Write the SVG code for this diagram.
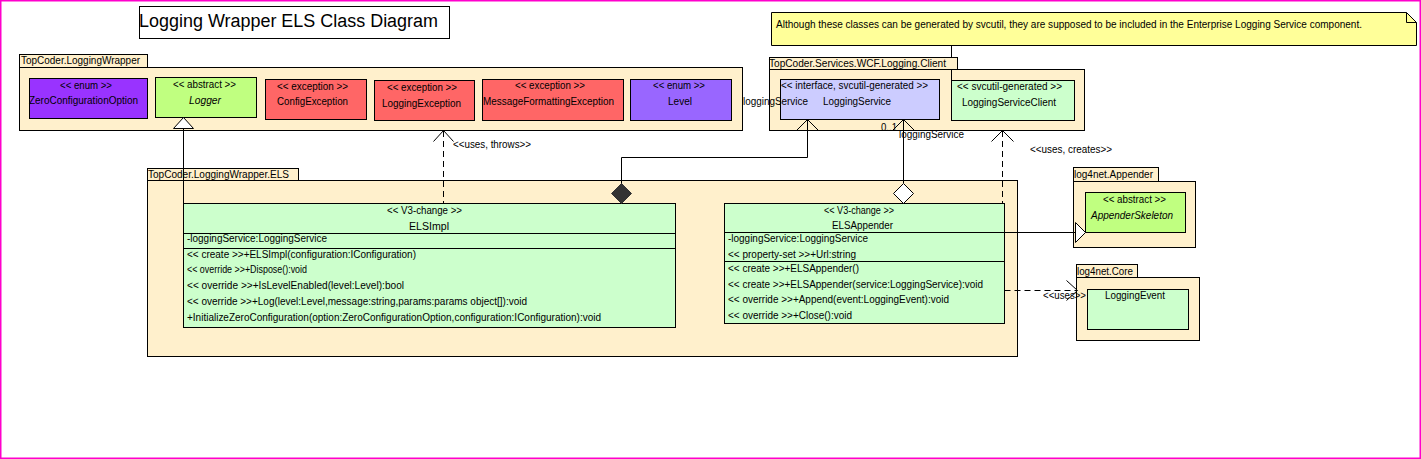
<svg xmlns="http://www.w3.org/2000/svg" width="1421" height="459" viewBox="0 0 1421 459">
<style>
text{font-family:"Liberation Sans",Arial,sans-serif;font-size:10px;fill:#000}
.title{font-size:18px}
.it{font-style:italic}
.pkg{fill:#fff0cc;stroke:#000;stroke-width:1}
.cls{stroke:#000;stroke-width:1}
.ln{fill:none;stroke:#000;stroke-width:1}
.dash{fill:none;stroke:#000;stroke-width:1;stroke-dasharray:6,4}
.green{fill:#ccffcc}
.lime{fill:#c0ff80}
.red{fill:#ff6666}
.purple{fill:#9933ff}
.violet{fill:#9966ff}
.lav{fill:#ccccff}
</style>
<rect x="0.75" y="0.75" width="1419.5" height="457.5" fill="#fff" stroke="#ff00cc" stroke-width="1.5"/>

<g id="title">
<rect x="139.5" y="6.5" width="310" height="32" fill="#fff" stroke="#000"/>
<text class="title" x="139" y="27" textLength="299" lengthAdjust="spacingAndGlyphs">Logging Wrapper ELS Class Diagram</text>
</g>

<g id="note">
<path d="M771.5,12.5 H1406.5 L1416.5,22.5 V45.5 H771.5 Z" fill="#ffff99" stroke="#000"/>
<path d="M1406.5,12.5 V22.5 H1416.5" fill="none" stroke="#000"/>
<text x="776" y="28" textLength="586" lengthAdjust="spacingAndGlyphs">Although these classes can be generated by svcutil, they are supposed to be included in the Enterprise Logging Service component.</text>
</g>

<g id="pkg-loggingwrapper">
<rect class="pkg" x="19.5" y="54.5" width="128" height="13"/>
<rect class="pkg" x="19.5" y="67.5" width="723" height="63"/>
<text x="21" y="64" textLength="119" lengthAdjust="spacingAndGlyphs">TopCoder.LoggingWrapper</text>
</g>

<g id="pkg-wcf">
<rect class="pkg" x="769.5" y="57.5" width="188" height="12"/>
<rect class="pkg" x="769.5" y="69.5" width="315" height="61"/>
<text x="769" y="67" textLength="177" lengthAdjust="spacingAndGlyphs">TopCoder.Services.WCF.Logging.Client</text>
</g>

<g id="pkg-els">
<rect class="pkg" x="147.5" y="168.5" width="151" height="12"/>
<rect class="pkg" x="147.5" y="180.5" width="870" height="176"/>
<text x="148" y="178" textLength="141" lengthAdjust="spacingAndGlyphs">TopCoder.LoggingWrapper.ELS</text>
</g>

<g id="pkg-appender">
<rect class="pkg" x="1073.5" y="167.5" width="85" height="14"/>
<rect class="pkg" x="1073.5" y="181.5" width="122" height="66"/>
<text x="1074" y="178" textLength="79" lengthAdjust="spacingAndGlyphs">log4net.Appender</text>
</g>

<g id="pkg-core">
<rect class="pkg" x="1076.5" y="264.5" width="61" height="13"/>
<rect class="pkg" x="1076.5" y="277.5" width="123" height="63"/>
<text x="1077" y="275" textLength="56" lengthAdjust="spacingAndGlyphs">log4net.Core</text>
</g>

<g id="ZeroConfigurationOption">
<rect class="cls purple" x="29.5" y="78.5" width="118" height="40"/>
<text x="60" y="89" textLength="52" lengthAdjust="spacingAndGlyphs">&lt;&lt; enum &gt;&gt;</text>
<text x="29" y="104" textLength="109" lengthAdjust="spacingAndGlyphs">ZeroConfigurationOption</text>
</g>

<g id="Logger">
<rect class="cls lime" x="155.5" y="77.5" width="101" height="40"/>
<text x="173" y="88" textLength="63" lengthAdjust="spacingAndGlyphs">&lt;&lt; abstract &gt;&gt;</text>
<text class="it" x="189" y="104" textLength="32" lengthAdjust="spacingAndGlyphs">Logger</text>
</g>

<g id="ConfigException">
<rect class="cls red" x="265.5" y="79.5" width="101" height="40"/>
<text x="277" y="90" textLength="71" lengthAdjust="spacingAndGlyphs">&lt;&lt; exception &gt;&gt;</text>
<text x="277" y="105" textLength="71" lengthAdjust="spacingAndGlyphs">ConfigException</text>
</g>

<g id="LoggingException">
<rect class="cls red" x="374.5" y="80.5" width="100" height="40"/>
<text x="387" y="91" textLength="70" lengthAdjust="spacingAndGlyphs">&lt;&lt; exception &gt;&gt;</text>
<text x="382" y="107" textLength="79" lengthAdjust="spacingAndGlyphs">LoggingException</text>
</g>

<g id="MessageFormattingException">
<rect class="cls red" x="482.5" y="79.5" width="141" height="41"/>
<text x="515" y="89" textLength="70" lengthAdjust="spacingAndGlyphs">&lt;&lt; exception &gt;&gt;</text>
<text x="483" y="105" textLength="131" lengthAdjust="spacingAndGlyphs">MessageFormattingException</text>
</g>

<g id="Level">
<rect class="cls violet" x="630.5" y="79.5" width="101" height="41"/>
<text x="653" y="89" textLength="52" lengthAdjust="spacingAndGlyphs">&lt;&lt; enum &gt;&gt;</text>
<text x="668" y="105" textLength="24" lengthAdjust="spacingAndGlyphs">Level</text>
</g>

<g id="LoggingService">
<rect class="cls lav" x="780.5" y="79.5" width="159" height="40"/>
<text x="781" y="89" textLength="147" lengthAdjust="spacingAndGlyphs">&lt;&lt; interface, svcutil-generated &gt;&gt;</text>
<text x="823" y="105" textLength="68" lengthAdjust="spacingAndGlyphs">LoggingService</text>
</g>

<g id="LoggingServiceClient">
<rect class="cls green" x="951.5" y="80.5" width="123" height="40"/>
<text x="957" y="90" textLength="105" lengthAdjust="spacingAndGlyphs">&lt;&lt; svcutil-generated &gt;&gt;</text>
<text x="962" y="106" textLength="94" lengthAdjust="spacingAndGlyphs">LoggingServiceClient</text>
</g>

<g id="ELSImpl">
<rect class="cls green" x="183.5" y="203.5" width="492" height="124"/>
<line class="ln" x1="183.5" y1="233.5" x2="675.5" y2="233.5"/>
<line class="ln" x1="183.5" y1="248.5" x2="675.5" y2="248.5"/>
<text x="387" y="214" textLength="75" lengthAdjust="spacingAndGlyphs">&lt;&lt; V3-change &gt;&gt;</text>
<text x="409" y="230" textLength="40" lengthAdjust="spacingAndGlyphs">ELSImpl</text>
<text x="187" y="242" textLength="140" lengthAdjust="spacingAndGlyphs">-loggingService:LoggingService</text>
<text x="187" y="258" textLength="229" lengthAdjust="spacingAndGlyphs">&lt;&lt; create &gt;&gt;+ELSImpl(configuration:IConfiguration)</text>
<text x="187" y="273" textLength="120" lengthAdjust="spacingAndGlyphs">&lt;&lt; override &gt;&gt;+Dispose():void</text>
<text x="187" y="289" textLength="217" lengthAdjust="spacingAndGlyphs">&lt;&lt; override &gt;&gt;+IsLevelEnabled(level:Level):bool</text>
<text x="187" y="305" textLength="340" lengthAdjust="spacingAndGlyphs">&lt;&lt; override &gt;&gt;+Log(level:Level,message:string,params:params object[]):void</text>
<text x="187" y="321" textLength="414" lengthAdjust="spacingAndGlyphs">+InitializeZeroConfiguration(option:ZeroConfigurationOption,configuration:IConfiguration):void</text>
</g>

<g id="ELSAppender">
<rect class="cls green" x="724.5" y="203.5" width="280" height="120"/>
<line class="ln" x1="724.5" y1="232.5" x2="1004.5" y2="232.5"/>
<line class="ln" x1="724.5" y1="261.5" x2="1004.5" y2="261.5"/>
<text x="824" y="214" textLength="70" lengthAdjust="spacingAndGlyphs">&lt;&lt; V3-change &gt;&gt;</text>
<text x="832" y="229" textLength="61" lengthAdjust="spacingAndGlyphs">ELSAppender</text>
<text x="728" y="242" textLength="140" lengthAdjust="spacingAndGlyphs">-loggingService:LoggingService</text>
<text x="728" y="258" textLength="128" lengthAdjust="spacingAndGlyphs">&lt;&lt; property-set &gt;&gt;+Url:string</text>
<text x="728" y="272" textLength="131" lengthAdjust="spacingAndGlyphs">&lt;&lt; create &gt;&gt;+ELSAppender()</text>
<text x="728" y="288" textLength="255" lengthAdjust="spacingAndGlyphs">&lt;&lt; create &gt;&gt;+ELSAppender(service:LoggingService):void</text>
<text x="728" y="303" textLength="221" lengthAdjust="spacingAndGlyphs">&lt;&lt; override &gt;&gt;+Append(event:LoggingEvent):void</text>
<text x="728" y="319" textLength="124" lengthAdjust="spacingAndGlyphs">&lt;&lt; override &gt;&gt;+Close():void</text>
</g>

<g id="AppenderSkeleton">
<rect class="cls lime" x="1085.5" y="192.5" width="100" height="40"/>
<text x="1103" y="203" textLength="63" lengthAdjust="spacingAndGlyphs">&lt;&lt; abstract &gt;&gt;</text>
<text class="it" x="1091" y="219" textLength="82" lengthAdjust="spacingAndGlyphs">AppenderSkeleton</text>
</g>

<g id="LoggingEvent">
<rect class="cls green" x="1087.5" y="289.5" width="101" height="40"/>
<text x="1105" y="299" textLength="60" lengthAdjust="spacingAndGlyphs">LoggingEvent</text>
</g>

<g id="connectors">
<!-- note link -->
<line class="ln" x1="951.5" y1="46" x2="951.5" y2="57"/>
<line class="ln" x1="951.5" y1="70" x2="951.5" y2="80"/>
<!-- ELSImpl generalization to Logger -->
<line class="ln" x1="183.5" y1="128" x2="183.5" y2="203"/>
<path d="M183.5,117.5 L193.5,128.5 H173.5 Z" fill="#fff" stroke="#000"/>
<!-- ELSImpl uses, throws exceptions -->
<line class="dash" x1="443.5" y1="131" x2="443.5" y2="203"/>
<path class="ln" d="M433.5,141.5 L443.5,130.5 L453.5,141.5"/>
<text x="453" y="148" textLength="78" lengthAdjust="spacingAndGlyphs">&lt;&lt;uses, throws&gt;&gt;</text>
<!-- ELSImpl composition to LoggingService -->
<path class="ln" d="M621.5,184 V157.5 H807.5 V120"/>
<path class="ln" d="M796.5,130.5 L807.5,119.5 L818.5,130.5"/>
<path d="M621.5,183.5 L631.5,193.5 L621.5,203.5 L611.5,193.5 Z" fill="#333" stroke="#333"/>
<text x="743" y="105" textLength="65" lengthAdjust="spacingAndGlyphs">loggingService</text>
<!-- ELSAppender aggregation to LoggingService -->
<line class="ln" x1="903.5" y1="183" x2="903.5" y2="120"/>
<path class="ln" d="M892.5,130.5 L903.5,119.5 L914.5,130.5"/>
<path d="M903.5,183.5 L913.5,193.5 L903.5,203.5 L893.5,193.5 Z" fill="#fff" stroke="#000"/>
<text x="881" y="131" textLength="16" lengthAdjust="spacingAndGlyphs">0..1</text>
<text x="899" y="138" textLength="65" lengthAdjust="spacingAndGlyphs">loggingService</text>
<!-- ELSAppender uses, creates LoggingServiceClient -->
<line class="dash" x1="1002.5" y1="131" x2="1002.5" y2="203"/>
<path class="ln" d="M991.5,141.5 L1002.5,130.5 L1013.5,141.5"/>
<text x="1030" y="153" textLength="82" lengthAdjust="spacingAndGlyphs">&lt;&lt;uses, creates&gt;&gt;</text>
<!-- ELSAppender generalization to AppenderSkeleton -->
<line class="ln" x1="1004.5" y1="232.5" x2="1075" y2="232.5"/>
<path d="M1085.5,232.5 L1075.5,222.5 V242.5 Z" fill="#fff" stroke="#000"/>
<!-- ELSAppender uses LoggingEvent -->
<line class="dash" x1="1004.5" y1="290.5" x2="1076" y2="290.5"/>
<path class="ln" d="M1066.5,280.5 L1077.5,290.5 L1066.5,300.5"/>
<text x="1043" y="299" textLength="43" lengthAdjust="spacingAndGlyphs">&lt;&lt;uses&gt;&gt;</text>
</g>
</svg>
